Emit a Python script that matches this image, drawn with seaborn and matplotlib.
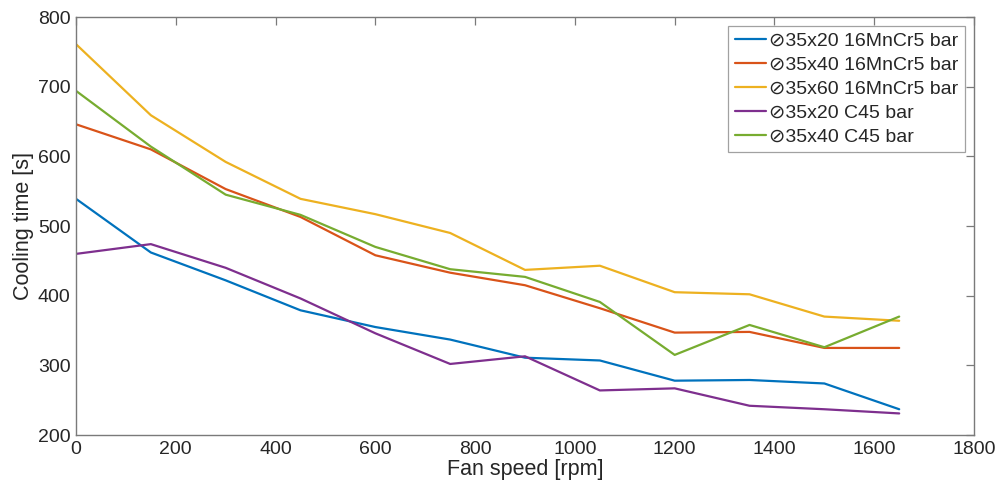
import pandas as pd
import matplotlib
matplotlib.use("Agg")
import matplotlib.pyplot as plt
import seaborn as sns

fan_speed = [0, 150, 300, 450, 600, 750, 900, 1050, 1200, 1350, 1500, 1650]

mncr_35x20 = [539, 462, 422, 379, 355, 337, 311, 307, 278, 279, 274, 237]
mncr_35x40 = [646, 610, 553, 513, 458, 433, 415, 382, 347, 348, 325, 325]
mncr_35x60 = [761, 659, 592, 539, 517, 490, 437, 443, 405, 402, 370, 364]
c45_35x20 = [460, 474, 440, 396, 346, 302, 313, 264, 267, 242, 237, 231]
c45_35x40 = [694, 614, 545, 516, 470, 438, 427, 391, 315, 358, 326, 370]

labels = [
    "\u229835x20 16MnCr5 bar",
    "\u229835x40 16MnCr5 bar",
    "\u229835x60 16MnCr5 bar",
    "\u229835x20 C45 bar",
    "\u229835x40 C45 bar",
]
series = [mncr_35x20, mncr_35x40, mncr_35x60, c45_35x20, c45_35x40]
colors = ["#0072BD", "#D95319", "#EDB120", "#7E2F8E", "#77AC30"]

rows = []
for lab, vals in zip(labels, series):
    for x, y in zip(fan_speed, vals):
        rows.append({"fan": x, "time": y, "bar": lab})
df = pd.DataFrame(rows)

sns.set_theme(style="white")
plt.rcParams["font.family"] = ["Liberation Sans", "DejaVu Sans"]

fig = plt.figure(figsize=(9.99, 4.93), dpi=100)
ax = fig.add_axes([0.0761, 0.1176, 0.8989, 0.8479])

sns.lineplot(data=df, x="fan", y="time", hue="bar", palette=colors,
             linewidth=1.6, ax=ax)

ax.set_xlim(0, 1800)
ax.set_ylim(200, 800)
ax.set_xticks(range(0, 1801, 200))
ax.set_yticks(range(200, 801, 100))
ax.set_xlabel("Fan speed [rpm]", fontsize=15.5, color="#262626", labelpad=1)
ax.set_ylabel("Cooling time [s]", fontsize=15.5, color="#262626", labelpad=3)

axis_col = "#7a7a7a"
for s in ax.spines.values():
    s.set_color(axis_col)
    s.set_linewidth(1.0)
ax.tick_params(direction="in", length=6, width=0.9, color=axis_col,
               labelsize=14, labelcolor="#262626",
               top=True, right=True, pad=4)

leg = ax.legend(loc="upper right", fontsize=14, frameon=True, fancybox=False,
                handlelength=1.6, handletextpad=0.15, labelspacing=0.32,
                borderaxespad=0.45, borderpad=0.35, title=None)
leg.get_frame().set_edgecolor("#8a8a8a")
leg.get_frame().set_linewidth(0.9)
for t in leg.get_texts():
    t.set_color("#262626")

fig.savefig("out.png", dpi=100)
